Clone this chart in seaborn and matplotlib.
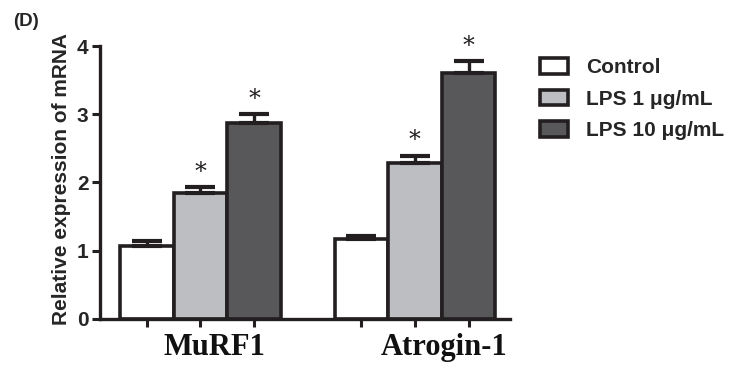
import matplotlib
matplotlib.use("Agg")
import matplotlib.pyplot as plt
import seaborn as sns
import pandas as pd
import numpy as np
from matplotlib.patches import Patch

genes = ["MuRF1", "Atrogin-1"]
groups = ["Control", "LPS 1 \u03bcg/mL", "LPS 10 \u03bcg/mL"]
murf1 = [1.07, 1.85, 2.87]
atrogin = [1.17, 2.29, 3.61]
murf1_err = [0.07, 0.08, 0.13]
atrogin_err = [0.04, 0.10, 0.17]
signif_murf1 = ["", "*", "*"]
signif_atrogin = ["", "*", "*"]
colors = ["#ffffff", "#bdbec1", "#58585a"]
edge = "#231f20"

rows = []
for g, vals, errs, sig in [("MuRF1", murf1, murf1_err, signif_murf1),
                           ("Atrogin-1", atrogin, atrogin_err, signif_atrogin)]:
    for grp, v, e, s in zip(groups, vals, errs, sig):
        rows.append({"gene": g, "group": grp, "value": v, "err": e, "sig": s})
df = pd.DataFrame(rows)

sns.set_style("white")
plt.rcParams['font.family'] = ['Liberation Sans', 'DejaVu Sans']

fig = plt.figure(figsize=(7.44, 3.70), dpi=100)
ax = fig.add_axes([0.134, 0.138, 0.552, 0.756])

sns.barplot(data=df, x="gene", y="value", hue="group", order=genes,
            hue_order=groups, palette=colors, width=0.75, errorbar=None,
            edgecolor=edge, linewidth=2.6, saturation=1, legend=False, ax=ax)

bars = [p for p in ax.patches if p.get_height() > 0]
centers = []
info = []
for hi, grp in enumerate(groups):
    for gi, g in enumerate(genes):
        p = bars[hi * len(genes) + gi]
        r = df[(df.gene == g) & (df.group == grp)].iloc[0]
        cx = p.get_x() + p.get_width() / 2
        info.append((cx, r.value, r.err, r.sig))
        centers.append(cx)

for cx, v, e, s in info:
    ax.errorbar(cx, v, yerr=[[0], [e]], fmt="none", ecolor=edge,
                elinewidth=2.4, capsize=11, capthick=3.0, zorder=1)
    if s:
        ax.text(cx, v + e + 0.05, s, ha="center", va="bottom",
                fontsize=17, family="DejaVu Serif", color=edge)

ax.set_xlim(-0.47, 1.445)
ax.set_ylim(0, 4.1)
ax.set_yticks([0, 1, 2, 3, 4])
ax.set_yticklabels(["0", "1", "2", "3", "4"], fontsize=15, fontweight="bold")
ax.set_xticks(sorted(centers))
ax.set_xticklabels([])
ax.tick_params(axis="both", direction="out", length=6, width=2.2, color=edge,
               left=True, bottom=True, pad=2)
for side in ["top", "right"]:
    ax.spines[side].set_visible(False)
for side in ["left", "bottom"]:
    ax.spines[side].set_linewidth(2.4)
    ax.spines[side].set_color(edge)
ax.spines["left"].set_bounds(0, 4)
ax.set_xlabel("")
ax.set_ylabel("Relative expression of mRNA", fontsize=15, fontweight="bold",
              labelpad=4)

label_x = [0.065, 1.138]
for lx, g in zip(label_x, genes):
    ax.text(lx, -0.2, g, ha="center", va="top", fontsize=22,
            fontweight="bold", family="Liberation Serif", color="#111111")

handles = [Patch(facecolor=c, edgecolor=edge, linewidth=2.6) for c in colors]
leg = fig.legend(handles, groups, loc="upper left", bbox_to_anchor=(0.70, 0.893),
                 frameon=False, handlelength=1.35, handleheight=0.75,
                 labelspacing=0.6, handletextpad=0.9,
                 prop={"weight": "bold", "size": 15})

fig.text(0.017, 0.965, "(D)", fontsize=13.5, fontweight="bold", va="top", ha="left")

fig.savefig("out.png", dpi=100)
